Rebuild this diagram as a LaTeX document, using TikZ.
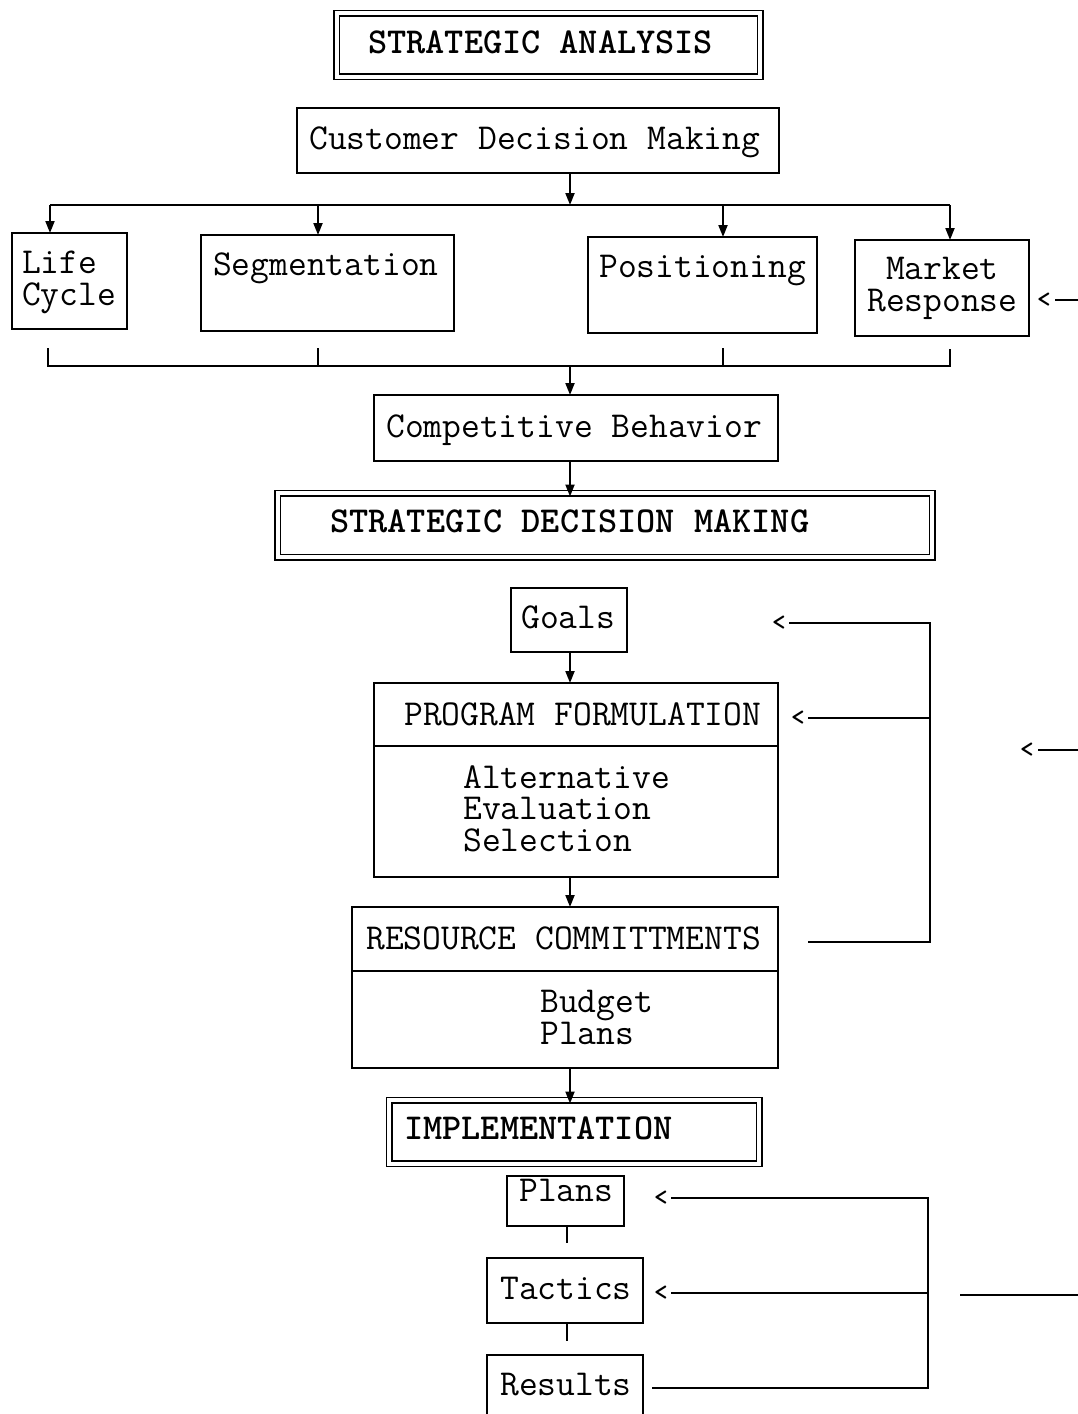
\documentclass[tikz,border=0pt]{standalone}
\usetikzlibrary{arrows.meta}
\begin{document}
\begin{tikzpicture}[x=1pt,y=-1pt,
  box/.style={draw, line width=2pt, inner sep=0pt, outer sep=0pt, anchor=north west},
  dbox/.style={draw, double, double distance=4pt, line width=1.5pt, inner sep=0pt, outer sep=0pt, anchor=north west},
  txt/.style={inner sep=0pt, anchor=base west, text height=21pt, text depth=5pt, font=\fontsize{36.5}{40}\selectfont\ttfamily},
  mtxt/.style={inner sep=0pt, anchor=north west, align=left, font=\fontsize{36.5}{31.5}\selectfont\ttfamily},
  btxt/.style={inner sep=0pt, anchor=base west, text height=21pt, text depth=5pt, font=\fontsize{36.5}{40}\selectfont\ttfamily\bfseries},
  lt/.style={inner sep=0pt, anchor=east, font=\fontsize{26}{30}\selectfont\ttfamily\bfseries},
  ln/.style={line width=2pt},
  arr/.style={line width=2pt, -{Triangle[length=12pt,width=9pt]}}]
\useasboundingbox (0,0) rectangle (1078,1414);

% ---------- boxes ----------
\node[dbox, minimum width=423.5pt, minimum height=63.5pt] (sa) at (336.5,13) {};
\node[box, minimum width=482pt, minimum height=65pt] (cdm) at (297,108) {};
\node[box, minimum width=115pt, minimum height=96pt] (lc) at (12,233) {};
\node[box, minimum width=253pt, minimum height=96pt] (seg) at (201,235) {};
\node[box, minimum width=229pt, minimum height=96pt] (pos) at (588,237) {};
\node[box, minimum width=174pt, minimum height=96pt] (mr) at (855,240) {};
\node[box, minimum width=404pt, minimum height=66pt] (cb) at (374,395) {};
\node[dbox, minimum width=654.5pt, minimum height=64pt] (sdm) at (277.5,493) {};
\node[box, minimum width=116pt, minimum height=64pt] (goals) at (511,588) {};
\node[box, minimum width=404pt, minimum height=194pt] (pf) at (374,683) {};
\node[box, minimum width=426pt, minimum height=161pt] (rc) at (352,907) {};
\node[dbox, minimum width=370pt, minimum height=63.5pt] (impl) at (389,1100) {};
\node[box, minimum width=117pt, minimum height=50pt] (plans) at (507,1176) {};
\node[box, minimum width=156pt, minimum height=65pt] (tac) at (487,1258) {};
\node[box, minimum width=156pt, minimum height=90pt] (res) at (487,1355) {};

% dividers
\draw[ln] (pf.west |- 0,746) -- (pf.east |- 0,746);
\draw[ln] (rc.west |- 0,971) -- (rc.east |- 0,971);

% ---------- texts ----------
\node[btxt] (tsa) at (368,53) {STRATEGIC ANALYSIS};
\node[txt] (tcdm) at (309,149) {Customer Decision Making};
\node[mtxt] (tlc) at (22,251) {Life\\Cycle};
\node[txt] (tseg) at (213,275) {Segmentation};
\node[txt] (tpos) at (599,277) {Positioning};
\node[mtxt, align=center] (tmr) at (867,257) {Market\\Response};
\node[txt] (tcb) at (386,437) {Competitive Behavior};
\node[btxt] (tsdm) at (330,532) {STRATEGIC DECISION MAKING};
\node[txt] (tgoals) at (521,628) {Goals};
\node[txt] (tpf) at (404,725) {PROGRAM FORMULATION};
\node[mtxt] (tpfb) at (463,765) {Alternative\\Evaluation\\Selection};
\node[txt] (trc) at (366,949) {RESOURCE COMMITTMENTS};
\node[mtxt] (trcb) at (540,990) {Budget\\Plans};
\node[btxt] (timpl) at (404,1139) {IMPLEMENTATION};
\node[txt] (tplans) at (519,1201) {Plans};
\node[txt] (ttac) at (500,1299) {Tactics};
\node[txt] (tres) at (500,1395) {Results};

% ---------- connectors ----------
\coordinate (spine) at (570,0);
\coordinate (bus) at (0,205);
\coordinate (b1) at (50,205);
\coordinate (b2) at (318,205);
\coordinate (b3) at (723,205);
\coordinate (b4) at (950,205);
\draw[arr] (cdm.south -| spine) -- (bus -| spine);
\draw[ln] (b1) -- (b4);
\draw[arr] (b1) -- (b1 |- lc.north);
\draw[arr] (b2) -- (b2 |- seg.north);
\draw[arr] (b3) -- (b3 |- pos.north);
\draw[arr] (b4) -- (b4 |- mr.north);

% bracket
\coordinate (k1) at (48,366);
\coordinate (k4) at (950,366);
\draw[ln] (48,348) -- (k1) -- (k4) -- (950,349);
\draw[ln] (318,348) -- (318,366);
\draw[ln] (723,348) -- (723,366);
\draw[arr] (k1 -| spine) -- (cb.north -| spine);

\draw[arr] (cb.south -| spine) -- ([yshift=-3.5pt]sdm.north -| spine);
\draw[arr] (goals.south -| spine) -- (pf.north -| spine);
\draw[arr] (pf.south -| spine) -- (rc.north -| spine);
\draw[arr] (rc.south -| spine) -- ([yshift=-3.5pt]impl.north -| spine);

% implementation stubs
\coordinate (istub) at (567,0);
\draw[ln] (plans.south -| istub) -- ++(0,17);
\draw[ln] (tac.south -| istub) -- ++(0,18);

% feedback loop (strategic decision making)
\coordinate (rcT) at (808,942);
\coordinate (fb1) at (930,942);
\coordinate (fb2) at (930,623);
\coordinate (fb3) at (930,718);
\node[lt] (lg) at (786,623) {<};
\node[lt] (lpf) at (805,718) {<};
\draw[ln] (rcT) -- (fb1) -- (fb2) -- ([xshift=3pt]lg.east |- fb2);
\draw[ln] (fb3) -- ([xshift=3pt]lpf.east |- fb3);

% outside arrows at right
\node[lt] (lmr) at (1051,300) {<};
\draw[ln] ([xshift=4pt]lmr.east) -- (1078,300);
\node[lt] (lmid) at (1034,750) {<};
\draw[ln] ([xshift=4pt]lmid.east) -- (1078,750);

% feedback loop (implementation)
\coordinate (resT) at (652,1388);
\coordinate (fc1) at (928,1388);
\coordinate (fc2) at (928,1198);
\coordinate (fc3) at (928,1293);
\node[lt] (lpl) at (668,1198) {<};
\node[lt] (lta) at (668,1293) {<};
\draw[ln] (resT) -- (fc1) -- (fc2) -- ([xshift=3pt]lpl.east |- fc2);
\draw[ln] (fc3) -- ([xshift=3pt]lta.east |- fc3);
\coordinate (oc) at (960,1295);
\draw[ln] (oc) -- (1078,1295);
\end{tikzpicture}
\end{document}
